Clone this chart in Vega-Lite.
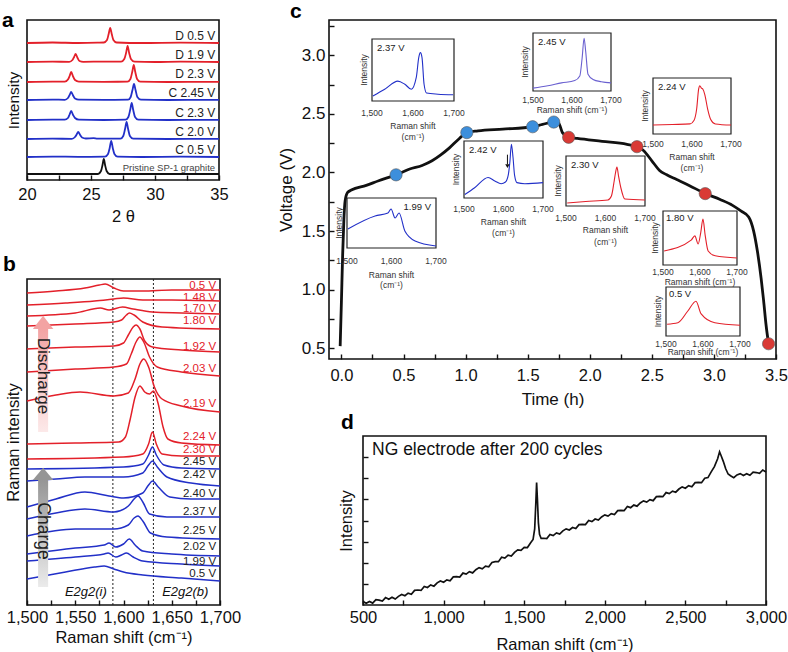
{
"$schema": "https://vega.github.io/schema/vega-lite/v6.json",
"padding": {"left": 1, "top": 0, "right": 0, "bottom": 0},
"background": "white",
"config": {
  "font": "Liberation Sans",
  "view": {"stroke": "#111", "strokeWidth": 1.6},
  "axis": {"domain": false, "grid": false, "tickColor": "#111", "tickSize": -5, "tickWidth": 1.4, "labelPadding": 9, "labelFontSize": 16.5, "labelColor": "#111", "labelFont": "Liberation Sans", "titleFont": "Liberation Sans", "titleFontSize": 16.5, "titleFontWeight": "normal", "titleColor": "#111", "labelOverlap": false, "labelFlush": false, "titlePadding": 6},
  "title": {"fontSize": 21, "fontWeight": "bold", "anchor": "start", "frame": "group", "color": "#000", "font": "Liberation Sans"},
  "text": {"font": "Liberation Sans"}
},
"datasets": {
  "aData": [
    {"s":"D0.5","g":"D","x":20,"y":137},{"s":"D0.5","g":"D","x":22,"y":137.5},{"s":"D0.5","g":"D","x":24,"y":137},{"s":"D0.5","g":"D","x":25.5,"y":137.3},{"s":"D0.5","g":"D","x":26.0,"y":137.5},{"s":"D0.5","g":"D","x":26.25,"y":140},{"s":"D0.5","g":"D","x":26.38,"y":146},{"s":"D0.5","g":"D","x":26.5,"y":152},{"s":"D0.5","g":"D","x":26.62,"y":146},{"s":"D0.5","g":"D","x":26.75,"y":140},{"s":"D0.5","g":"D","x":27.0,"y":137.5},{"s":"D0.5","g":"D","x":29,"y":137},{"s":"D0.5","g":"D","x":32,"y":137.4},{"s":"D0.5","g":"D","x":35,"y":137},
    {"s":"D1.9","g":"D","x":20,"y":118},{"s":"D1.9","g":"D","x":22,"y":118.3},{"s":"D1.9","g":"D","x":23.3,"y":118.2},{"s":"D1.9","g":"D","x":23.55,"y":120},{"s":"D1.9","g":"D","x":23.68,"y":123},{"s":"D1.9","g":"D","x":23.8,"y":126},{"s":"D1.9","g":"D","x":23.95,"y":122},{"s":"D1.9","g":"D","x":24.1,"y":119},{"s":"D1.9","g":"D","x":24.4,"y":118.2},{"s":"D1.9","g":"D","x":26,"y":118.4},{"s":"D1.9","g":"D","x":27.35,"y":118.3},{"s":"D1.9","g":"D","x":27.6,"y":121},{"s":"D1.9","g":"D","x":27.74,"y":127},{"s":"D1.9","g":"D","x":27.86,"y":134},{"s":"D1.9","g":"D","x":27.98,"y":127},{"s":"D1.9","g":"D","x":28.12,"y":121},{"s":"D1.9","g":"D","x":28.4,"y":118.3},{"s":"D1.9","g":"D","x":30,"y":118},{"s":"D1.9","g":"D","x":32,"y":118.4},{"s":"D1.9","g":"D","x":35,"y":118},
    {"s":"D2.3","g":"D","x":20,"y":98},{"s":"D2.3","g":"D","x":22,"y":98.3},{"s":"D2.3","g":"D","x":22.95,"y":98.3},{"s":"D2.3","g":"D","x":23.2,"y":100.5},{"s":"D2.3","g":"D","x":23.33,"y":104},{"s":"D2.3","g":"D","x":23.45,"y":108},{"s":"D2.3","g":"D","x":23.6,"y":103.5},{"s":"D2.3","g":"D","x":23.75,"y":100},{"s":"D2.3","g":"D","x":24.05,"y":98.4},{"s":"D2.3","g":"D","x":26,"y":98.2},{"s":"D2.3","g":"D","x":27.85,"y":98.3},{"s":"D2.3","g":"D","x":28.08,"y":101},{"s":"D2.3","g":"D","x":28.22,"y":108},{"s":"D2.3","g":"D","x":28.34,"y":115},{"s":"D2.3","g":"D","x":28.46,"y":108},{"s":"D2.3","g":"D","x":28.6,"y":101},{"s":"D2.3","g":"D","x":28.85,"y":98.3},{"s":"D2.3","g":"D","x":31,"y":98},{"s":"D2.3","g":"D","x":35,"y":98.2},
    {"s":"C2.45","g":"C","x":20,"y":80},{"s":"C2.45","g":"C","x":22,"y":80.4},{"s":"C2.45","g":"C","x":22.95,"y":80.2},{"s":"C2.45","g":"C","x":23.2,"y":82},{"s":"C2.45","g":"C","x":23.33,"y":85},{"s":"C2.45","g":"C","x":23.45,"y":88},{"s":"C2.45","g":"C","x":23.6,"y":84.5},{"s":"C2.45","g":"C","x":23.75,"y":81.5},{"s":"C2.45","g":"C","x":24.05,"y":80.3},{"s":"C2.45","g":"C","x":26,"y":80.2},{"s":"C2.45","g":"C","x":27.9,"y":80.3},{"s":"C2.45","g":"C","x":28.1,"y":83},{"s":"C2.45","g":"C","x":28.24,"y":90},{"s":"C2.45","g":"C","x":28.36,"y":96},{"s":"C2.45","g":"C","x":28.48,"y":90},{"s":"C2.45","g":"C","x":28.62,"y":83},{"s":"C2.45","g":"C","x":28.9,"y":80.3},{"s":"C2.45","g":"C","x":31,"y":80},{"s":"C2.45","g":"C","x":35,"y":80.2},
    {"s":"C2.3","g":"C","x":20,"y":60},{"s":"C2.3","g":"C","x":22,"y":60.3},{"s":"C2.3","g":"C","x":22.95,"y":60.3},{"s":"C2.3","g":"C","x":23.2,"y":62},{"s":"C2.3","g":"C","x":23.33,"y":65.5},{"s":"C2.3","g":"C","x":23.45,"y":69},{"s":"C2.3","g":"C","x":23.6,"y":65},{"s":"C2.3","g":"C","x":23.75,"y":62},{"s":"C2.3","g":"C","x":24.05,"y":60.3},{"s":"C2.3","g":"C","x":26,"y":60},{"s":"C2.3","g":"C","x":27.7,"y":60.3},{"s":"C2.3","g":"C","x":27.92,"y":63},{"s":"C2.3","g":"C","x":28.06,"y":70},{"s":"C2.3","g":"C","x":28.18,"y":77},{"s":"C2.3","g":"C","x":28.3,"y":70},{"s":"C2.3","g":"C","x":28.44,"y":63},{"s":"C2.3","g":"C","x":28.7,"y":60.3},{"s":"C2.3","g":"C","x":31,"y":60},{"s":"C2.3","g":"C","x":35,"y":60.2},
    {"s":"C2.0","g":"C","x":20,"y":41},{"s":"C2.0","g":"C","x":22,"y":41.3},{"s":"C2.0","g":"C","x":23.5,"y":41.2},{"s":"C2.0","g":"C","x":23.75,"y":43},{"s":"C2.0","g":"C","x":23.88,"y":45.5},{"s":"C2.0","g":"C","x":24.0,"y":48},{"s":"C2.0","g":"C","x":24.15,"y":45},{"s":"C2.0","g":"C","x":24.3,"y":42.5},{"s":"C2.0","g":"C","x":24.6,"y":41.5},{"s":"C2.0","g":"C","x":25.2,"y":41.8},{"s":"C2.0","g":"C","x":25.5,"y":41.3},{"s":"C2.0","g":"C","x":27.3,"y":41.3},{"s":"C2.0","g":"C","x":27.52,"y":44},{"s":"C2.0","g":"C","x":27.66,"y":51},{"s":"C2.0","g":"C","x":27.78,"y":58},{"s":"C2.0","g":"C","x":27.9,"y":51},{"s":"C2.0","g":"C","x":28.04,"y":44},{"s":"C2.0","g":"C","x":28.3,"y":41.3},{"s":"C2.0","g":"C","x":31,"y":41},{"s":"C2.0","g":"C","x":35,"y":41.2},
    {"s":"C0.5","g":"C","x":20,"y":23},{"s":"C0.5","g":"C","x":22,"y":23.4},{"s":"C0.5","g":"C","x":24,"y":23.2},{"s":"C0.5","g":"C","x":26.08,"y":23.3},{"s":"C0.5","g":"C","x":26.33,"y":26},{"s":"C0.5","g":"C","x":26.46,"y":32},{"s":"C0.5","g":"C","x":26.58,"y":39},{"s":"C0.5","g":"C","x":26.7,"y":32},{"s":"C0.5","g":"C","x":26.83,"y":26},{"s":"C0.5","g":"C","x":27.08,"y":23.3},{"s":"C0.5","g":"C","x":29,"y":23},{"s":"C0.5","g":"C","x":32,"y":23.3},{"s":"C0.5","g":"C","x":35,"y":23},
    {"s":"P","g":"P","x":20,"y":6},{"s":"P","g":"P","x":23,"y":6},{"s":"P","g":"P","x":25.55,"y":6},{"s":"P","g":"P","x":25.78,"y":9},{"s":"P","g":"P","x":25.9,"y":15},{"s":"P","g":"P","x":26.0,"y":21},{"s":"P","g":"P","x":26.1,"y":15},{"s":"P","g":"P","x":26.22,"y":9},{"s":"P","g":"P","x":26.45,"y":6},{"s":"P","g":"P","x":29,"y":6},{"s":"P","g":"P","x":35,"y":6}
  ],
  "aLab": [
    {"t":"D 0.5 V","x":34.7,"y":140},{"t":"D 1.9 V","x":34.7,"y":121},{"t":"D 2.3 V","x":34.7,"y":102},{"t":"C 2.45 V","x":34.7,"y":83},{"t":"C 2.3 V","x":34.7,"y":63},{"t":"C 2.0 V","x":34.7,"y":44},{"t":"C 0.5 V","x":34.7,"y":26}
  ],
  "bData": [
    {"s":"d0.5","g":"d","x":1500,"y":312},{"s":"d0.5","g":"d","x":1530,"y":314},{"s":"d0.5","g":"d","x":1560,"y":317},{"s":"d0.5","g":"d","x":1575,"y":320},{"s":"d0.5","g":"d","x":1581,"y":321},{"s":"d0.5","g":"d","x":1590,"y":317},{"s":"d0.5","g":"d","x":1600,"y":314},{"s":"d0.5","g":"d","x":1620,"y":314},{"s":"d0.5","g":"d","x":1650,"y":315},{"s":"d0.5","g":"d","x":1700,"y":315},
    {"s":"d1.48","g":"d","x":1500,"y":300},{"s":"d1.48","g":"d","x":1540,"y":302},{"s":"d1.48","g":"d","x":1570,"y":304},{"s":"d1.48","g":"d","x":1590,"y":306},{"s":"d1.48","g":"d","x":1600,"y":307},{"s":"d1.48","g":"d","x":1620,"y":305},{"s":"d1.48","g":"d","x":1650,"y":305},{"s":"d1.48","g":"d","x":1700,"y":304},
    {"s":"d1.70","g":"d","x":1500,"y":289},{"s":"d1.70","g":"d","x":1550,"y":292},{"s":"d1.70","g":"d","x":1576,"y":297},{"s":"d1.70","g":"d","x":1585,"y":295},{"s":"d1.70","g":"d","x":1599,"y":298},{"s":"d1.70","g":"d","x":1610,"y":296},{"s":"d1.70","g":"d","x":1630,"y":293},{"s":"d1.70","g":"d","x":1660,"y":292},{"s":"d1.70","g":"d","x":1700,"y":291},
    {"s":"d1.80","g":"d","x":1500,"y":279},{"s":"d1.80","g":"d","x":1550,"y":281},{"s":"d1.80","g":"d","x":1590,"y":283},{"s":"d1.80","g":"d","x":1598,"y":285},{"s":"d1.80","g":"d","x":1603,"y":290},{"s":"d1.80","g":"d","x":1606,"y":292},{"s":"d1.80","g":"d","x":1611,"y":290},{"s":"d1.80","g":"d","x":1620,"y":283},{"s":"d1.80","g":"d","x":1640,"y":278},{"s":"d1.80","g":"d","x":1700,"y":276},
    {"s":"d1.92","g":"d","x":1500,"y":256},{"s":"d1.92","g":"d","x":1550,"y":258},{"s":"d1.92","g":"d","x":1590,"y":259},{"s":"d1.92","g":"d","x":1600,"y":262},{"s":"d1.92","g":"d","x":1605,"y":270},{"s":"d1.92","g":"d","x":1610,"y":278},{"s":"d1.92","g":"d","x":1613,"y":280},{"s":"d1.92","g":"d","x":1617,"y":276},{"s":"d1.92","g":"d","x":1622,"y":264},{"s":"d1.92","g":"d","x":1630,"y":258},{"s":"d1.92","g":"d","x":1660,"y":255},{"s":"d1.92","g":"d","x":1700,"y":253},
    {"s":"d2.03","g":"d","x":1500,"y":233},{"s":"d2.03","g":"d","x":1550,"y":236},{"s":"d2.03","g":"d","x":1590,"y":238},{"s":"d2.03","g":"d","x":1603,"y":241},{"s":"d2.03","g":"d","x":1608,"y":251},{"s":"d2.03","g":"d","x":1613,"y":263},{"s":"d2.03","g":"d","x":1617,"y":268},{"s":"d2.03","g":"d","x":1621,"y":263},{"s":"d2.03","g":"d","x":1627,"y":248},{"s":"d2.03","g":"d","x":1635,"y":238},{"s":"d2.03","g":"d","x":1660,"y":233},{"s":"d2.03","g":"d","x":1700,"y":229},
    {"s":"d2.19","g":"d","x":1500,"y":204},{"s":"d2.19","g":"d","x":1530,"y":210},{"s":"d2.19","g":"d","x":1555,"y":213},{"s":"d2.19","g":"d","x":1590,"y":209},{"s":"d2.19","g":"d","x":1605,"y":212},{"s":"d2.19","g":"d","x":1612,"y":226},{"s":"d2.19","g":"d","x":1617,"y":241},{"s":"d2.19","g":"d","x":1621,"y":246},{"s":"d2.19","g":"d","x":1626,"y":238},{"s":"d2.19","g":"d","x":1632,"y":218},{"s":"d2.19","g":"d","x":1640,"y":206},{"s":"d2.19","g":"d","x":1660,"y":199},{"s":"d2.19","g":"d","x":1700,"y":193},
    {"s":"d2.24","g":"d","x":1500,"y":161},{"s":"d2.24","g":"d","x":1550,"y":162},{"s":"d2.24","g":"d","x":1595,"y":163},{"s":"d2.24","g":"d","x":1602,"y":168},{"s":"d2.24","g":"d","x":1607,"y":186},{"s":"d2.24","g":"d","x":1612,"y":208},{"s":"d2.24","g":"d","x":1617,"y":219},{"s":"d2.24","g":"d","x":1622,"y":213},{"s":"d2.24","g":"d","x":1627,"y":211},{"s":"d2.24","g":"d","x":1631,"y":214},{"s":"d2.24","g":"d","x":1636,"y":201},{"s":"d2.24","g":"d","x":1641,"y":178},{"s":"d2.24","g":"d","x":1646,"y":166},{"s":"d2.24","g":"d","x":1660,"y":162},{"s":"d2.24","g":"d","x":1700,"y":160},
    {"s":"d2.30","g":"d","x":1500,"y":146},{"s":"d2.30","g":"d","x":1600,"y":148},{"s":"d2.30","g":"d","x":1620,"y":151},{"s":"d2.30","g":"d","x":1626,"y":161},{"s":"d2.30","g":"d","x":1630,"y":173},{"s":"d2.30","g":"d","x":1634,"y":161},{"s":"d2.30","g":"d","x":1640,"y":151},{"s":"d2.30","g":"d","x":1660,"y":149},{"s":"d2.30","g":"d","x":1700,"y":149},
    {"s":"c2.45","g":"c","x":1500,"y":136},{"s":"c2.45","g":"c","x":1600,"y":138},{"s":"c2.45","g":"c","x":1620,"y":141},{"s":"c2.45","g":"c","x":1626,"y":150},{"s":"c2.45","g":"c","x":1630,"y":158},{"s":"c2.45","g":"c","x":1634,"y":150},{"s":"c2.45","g":"c","x":1642,"y":140},{"s":"c2.45","g":"c","x":1660,"y":137},{"s":"c2.45","g":"c","x":1700,"y":136},
    {"s":"c2.42","g":"c","x":1500,"y":124},{"s":"c2.42","g":"c","x":1530,"y":126},{"s":"c2.42","g":"c","x":1560,"y":128},{"s":"c2.42","g":"c","x":1600,"y":128},{"s":"c2.42","g":"c","x":1620,"y":132},{"s":"c2.42","g":"c","x":1626,"y":140},{"s":"c2.42","g":"c","x":1630,"y":144},{"s":"c2.42","g":"c","x":1635,"y":138},{"s":"c2.42","g":"c","x":1645,"y":128},{"s":"c2.42","g":"c","x":1670,"y":122},{"s":"c2.42","g":"c","x":1700,"y":119},
    {"s":"c2.40","g":"c","x":1500,"y":98},{"s":"c2.40","g":"c","x":1530,"y":106},{"s":"c2.40","g":"c","x":1560,"y":113},{"s":"c2.40","g":"c","x":1585,"y":109},{"s":"c2.40","g":"c","x":1600,"y":107},{"s":"c2.40","g":"c","x":1620,"y":112},{"s":"c2.40","g":"c","x":1626,"y":120},{"s":"c2.40","g":"c","x":1630,"y":124},{"s":"c2.40","g":"c","x":1636,"y":118},{"s":"c2.40","g":"c","x":1648,"y":108},{"s":"c2.40","g":"c","x":1670,"y":106},{"s":"c2.40","g":"c","x":1700,"y":106},
    {"s":"c2.37","g":"c","x":1500,"y":86},{"s":"c2.37","g":"c","x":1530,"y":92},{"s":"c2.37","g":"c","x":1560,"y":96},{"s":"c2.37","g":"c","x":1590,"y":93},{"s":"c2.37","g":"c","x":1605,"y":99},{"s":"c2.37","g":"c","x":1611,"y":106},{"s":"c2.37","g":"c","x":1615,"y":109},{"s":"c2.37","g":"c","x":1620,"y":103},{"s":"c2.37","g":"c","x":1627,"y":91},{"s":"c2.37","g":"c","x":1645,"y":88},{"s":"c2.37","g":"c","x":1700,"y":88},
    {"s":"c2.25","g":"c","x":1500,"y":69},{"s":"c2.25","g":"c","x":1550,"y":76},{"s":"c2.25","g":"c","x":1590,"y":76},{"s":"c2.25","g":"c","x":1605,"y":80},{"s":"c2.25","g":"c","x":1611,"y":87},{"s":"c2.25","g":"c","x":1615,"y":89},{"s":"c2.25","g":"c","x":1620,"y":84},{"s":"c2.25","g":"c","x":1628,"y":72},{"s":"c2.25","g":"c","x":1645,"y":68},{"s":"c2.25","g":"c","x":1700,"y":66},
    {"s":"c2.02","g":"c","x":1500,"y":51},{"s":"c2.02","g":"c","x":1550,"y":57},{"s":"c2.02","g":"c","x":1580,"y":60},{"s":"c2.02","g":"c","x":1585,"y":62},{"s":"c2.02","g":"c","x":1592,"y":58},{"s":"c2.02","g":"c","x":1600,"y":61},{"s":"c2.02","g":"c","x":1606,"y":66},{"s":"c2.02","g":"c","x":1612,"y":60},{"s":"c2.02","g":"c","x":1620,"y":54},{"s":"c2.02","g":"c","x":1650,"y":51},{"s":"c2.02","g":"c","x":1700,"y":49},
    {"s":"c1.99","g":"c","x":1500,"y":44},{"s":"c1.99","g":"c","x":1550,"y":48},{"s":"c1.99","g":"c","x":1580,"y":51},{"s":"c1.99","g":"c","x":1584,"y":52},{"s":"c1.99","g":"c","x":1592,"y":48},{"s":"c1.99","g":"c","x":1598,"y":50},{"s":"c1.99","g":"c","x":1603,"y":52},{"s":"c1.99","g":"c","x":1610,"y":48},{"s":"c1.99","g":"c","x":1620,"y":44},{"s":"c1.99","g":"c","x":1660,"y":41},{"s":"c1.99","g":"c","x":1700,"y":39},
    {"s":"c0.5","g":"c","x":1500,"y":26},{"s":"c0.5","g":"c","x":1540,"y":33},{"s":"c0.5","g":"c","x":1570,"y":38},{"s":"c0.5","g":"c","x":1580,"y":39},{"s":"c0.5","g":"c","x":1590,"y":36},{"s":"c0.5","g":"c","x":1600,"y":33},{"s":"c0.5","g":"c","x":1620,"y":30},{"s":"c0.5","g":"c","x":1660,"y":27},{"s":"c0.5","g":"c","x":1700,"y":24}
  ],
  "bLab": [
    {"t":"0.5 V","g":"d","x":1696,"y":319},{"t":"1.48 V","g":"d","x":1696,"y":307},{"t":"1.70 V","g":"d","x":1696,"y":296},{"t":"1.80 V","g":"d","x":1696,"y":284},{"t":"1.92 V","g":"d","x":1696,"y":258},{"t":"2.03 V","g":"d","x":1696,"y":236},{"t":"2.19 V","g":"d","x":1696,"y":201},{"t":"2.24 V","g":"d","x":1696,"y":168},{"t":"2.30 V","g":"d","x":1696,"y":155},
    {"t":"2.45 V","g":"c","x":1696,"y":143},{"t":"2.42 V","g":"c","x":1696,"y":130},{"t":"2.40 V","g":"c","x":1696,"y":111},{"t":"2.37 V","g":"c","x":1696,"y":93},{"t":"2.25 V","g":"c","x":1696,"y":74},{"t":"2.02 V","g":"c","x":1696,"y":58},{"t":"1.99 V","g":"c","x":1696,"y":43},{"t":"0.5 V","g":"c","x":1696,"y":31}
  ],
  "cCurve": [
    {"x":-0.01,"y":0.52},{"x":0.0,"y":0.9},{"x":0.01,"y":1.3},{"x":0.02,"y":1.6},{"x":0.03,"y":1.76},{"x":0.05,"y":1.83},{"x":0.08,"y":1.85},{"x":0.2,"y":1.89},{"x":0.3,"y":1.93},{"x":0.44,"y":1.98},{"x":0.55,"y":2.03},{"x":0.65,"y":2.06},{"x":0.73,"y":2.10},{"x":0.8,"y":2.15},{"x":0.87,"y":2.21},{"x":0.95,"y":2.29},{"x":1.01,"y":2.34},{"x":1.1,"y":2.355},{"x":1.3,"y":2.37},{"x":1.54,"y":2.39},{"x":1.62,"y":2.41},{"x":1.71,"y":2.43},{"x":1.75,"y":2.42},{"x":1.78,"y":2.34},{"x":1.83,"y":2.30},{"x":1.9,"y":2.29},{"x":2.1,"y":2.265},{"x":2.3,"y":2.24},{"x":2.38,"y":2.22},{"x":2.43,"y":2.19},{"x":2.5,"y":2.10},{"x":2.56,"y":2.02},{"x":2.62,"y":1.98},{"x":2.7,"y":1.94},{"x":2.8,"y":1.89},{"x":2.93,"y":1.82},{"x":3.05,"y":1.77},{"x":3.15,"y":1.72},{"x":3.22,"y":1.67},{"x":3.28,"y":1.62},{"x":3.32,"y":1.50},{"x":3.35,"y":1.33},{"x":3.38,"y":1.1},{"x":3.40,"y":0.91},{"x":3.42,"y":0.7},{"x":3.44,"y":0.54}
  ],
  "cDots": [
    {"x":0.44,"y":1.98,"g":"chg"},{"x":1.01,"y":2.34,"g":"chg"},{"x":1.54,"y":2.39,"g":"chg"},{"x":1.71,"y":2.43,"g":"chg"},{"x":1.83,"y":2.30,"g":"dis"},{"x":2.38,"y":2.22,"g":"dis"},{"x":2.93,"y":1.82,"g":"dis"},{"x":3.44,"y":0.54,"g":"dis"}
  ],
  "itk": [{"x":1500,"y":0},{"x":1600,"y":0},{"x":1700,"y":0}],
  "iFrame": [{"x":1500,"x2":1700,"y":0,"y2":100}],
  "iBot": [{"x":1600,"y":0}],
  "iMid": [{"x":1500,"y":50}],
  "iTL": [{"x":1500,"y":100}],
  "iTR": [{"x":1700,"y":100}],
  "ins": [
    {"k":"2.37","x":1502,"y":8},{"k":"2.37","x":1531,"y":19},{"k":"2.37","x":1563,"y":32},{"k":"2.37","x":1580,"y":27},{"k":"2.37","x":1596,"y":19},{"k":"2.37","x":1608,"y":38},{"k":"2.37","x":1614,"y":70},{"k":"2.37","x":1618,"y":78},{"k":"2.37","x":1622,"y":70},{"k":"2.37","x":1627,"y":27},{"k":"2.37","x":1633,"y":13},{"k":"2.37","x":1661,"y":11},{"k":"2.37","x":1698,"y":10},
    {"k":"2.45","x":1500,"y":5},{"k":"2.45","x":1538,"y":9},{"k":"2.45","x":1573,"y":14},{"k":"2.45","x":1607,"y":18},{"k":"2.45","x":1620,"y":26},{"k":"2.45","x":1626,"y":57},{"k":"2.45","x":1631,"y":91},{"k":"2.45","x":1635,"y":69},{"k":"2.45","x":1641,"y":29},{"k":"2.45","x":1654,"y":20},{"k":"2.45","x":1675,"y":16},{"k":"2.45","x":1700,"y":14},
    {"k":"2.24","x":1500,"y":16},{"k":"2.24","x":1550,"y":17},{"k":"2.24","x":1595,"y":18},{"k":"2.24","x":1605,"y":24},{"k":"2.24","x":1612,"y":45},{"k":"2.24","x":1617,"y":80},{"k":"2.24","x":1620,"y":86},{"k":"2.24","x":1624,"y":82},{"k":"2.24","x":1628,"y":80},{"k":"2.24","x":1633,"y":70},{"k":"2.24","x":1640,"y":45},{"k":"2.24","x":1648,"y":26},{"k":"2.24","x":1660,"y":18},{"k":"2.24","x":1700,"y":16},
    {"k":"2.42","x":1502,"y":6},{"k":"2.42","x":1527,"y":18},{"k":"2.42","x":1561,"y":36},{"k":"2.42","x":1578,"y":30},{"k":"2.42","x":1594,"y":25},{"k":"2.42","x":1605,"y":28},{"k":"2.42","x":1612,"y":40},{"k":"2.42","x":1616,"y":62},{"k":"2.42","x":1620,"y":94},{"k":"2.42","x":1624,"y":72},{"k":"2.42","x":1628,"y":40},{"k":"2.42","x":1634,"y":27},{"k":"2.42","x":1654,"y":25},{"k":"2.42","x":1700,"y":27},
    {"k":"1.99","x":1502,"y":38},{"k":"1.99","x":1563,"y":64},{"k":"1.99","x":1592,"y":70},{"k":"1.99","x":1599,"y":78},{"k":"1.99","x":1608,"y":60},{"k":"1.99","x":1617,"y":70},{"k":"1.99","x":1630,"y":34},{"k":"1.99","x":1653,"y":14},{"k":"1.99","x":1700,"y":4},
    {"k":"2.30","x":1503,"y":6},{"k":"2.30","x":1550,"y":9},{"k":"2.30","x":1606,"y":12},{"k":"2.30","x":1615,"y":20},{"k":"2.30","x":1622,"y":50},{"k":"2.30","x":1625,"y":65},{"k":"2.30","x":1629,"y":78},{"k":"2.30","x":1633,"y":60},{"k":"2.30","x":1639,"y":36},{"k":"2.30","x":1649,"y":14},{"k":"2.30","x":1700,"y":12},
    {"k":"1.80","x":1503,"y":26},{"k":"1.80","x":1576,"y":46},{"k":"1.80","x":1586,"y":54},{"k":"1.80","x":1595,"y":39},{"k":"1.80","x":1602,"y":60},{"k":"1.80","x":1608,"y":85},{"k":"1.80","x":1614,"y":55},{"k":"1.80","x":1622,"y":26},{"k":"1.80","x":1641,"y":17},{"k":"1.80","x":1700,"y":13},
    {"k":"0.5","x":1503,"y":24},{"k":"0.5","x":1532,"y":27},{"k":"0.5","x":1559,"y":51},{"k":"0.5","x":1581,"y":71},{"k":"0.5","x":1595,"y":45},{"k":"0.5","x":1632,"y":27},{"k":"0.5","x":1700,"y":22}
  ],
  "dData": [
    {"x":500,"y":0.17},{"x":520,"y":0.08},{"x":540,"y":0.17},{"x":560,"y":0.09},{"x":580,"y":0.25},{"x":600,"y":0.23},{"x":620,"y":0.19},{"x":640,"y":0.35},{"x":660,"y":0.27},{"x":680,"y":0.37},{"x":700,"y":0.28},{"x":720,"y":0.41},{"x":740,"y":0.50},{"x":760,"y":0.44},{"x":780,"y":0.56},{"x":800,"y":0.51},{"x":820,"y":0.69},{"x":840,"y":0.71},{"x":860,"y":0.69},{"x":880,"y":0.88},{"x":900,"y":0.83},{"x":920,"y":0.95},{"x":940,"y":0.89},{"x":960,"y":1.05},{"x":980,"y":1.14},{"x":1000,"y":1.08},{"x":1020,"y":1.19},{"x":1040,"y":1.15},{"x":1060,"y":1.33},{"x":1080,"y":1.34},{"x":1100,"y":1.32},{"x":1120,"y":1.51},{"x":1140,"y":1.46},{"x":1160,"y":1.58},{"x":1180,"y":1.52},{"x":1200,"y":1.67},{"x":1220,"y":1.77},{"x":1240,"y":1.71},{"x":1260,"y":1.84},{"x":1280,"y":1.81},{"x":1300,"y":2.01},{"x":1320,"y":2.05},{"x":1340,"y":2.05},{"x":1360,"y":2.26},{"x":1380,"y":2.22},{"x":1400,"y":2.36},{"x":1420,"y":2.32},{"x":1440,"y":2.49},{"x":1460,"y":2.61},{"x":1480,"y":2.59},{"x":1500,"y":2.73},{"x":1520,"y":2.72},{"x":1540,"y":2.95},{"x":1555,"y":3.1},{"x":1565,"y":3.6},{"x":1572,"y":4.8},{"x":1577,"y":5.8},{"x":1582,"y":5.0},{"x":1588,"y":3.9},{"x":1595,"y":3.35},{"x":1605,"y":3.15},{"x":1620,"y":3.16},{"x":1640,"y":3.145},{"x":1660,"y":3.34},{"x":1680,"y":3.285},{"x":1700,"y":3.41},{"x":1720,"y":3.355},{"x":1740,"y":3.51},{"x":1760,"y":3.605},{"x":1780,"y":3.55},{"x":1800,"y":3.666},{"x":1820,"y":3.62},{"x":1840,"y":3.806},{"x":1860,"y":3.82},{"x":1880,"y":3.806},{"x":1900,"y":4.0},{"x":1920,"y":3.946},{"x":1940,"y":4.07},{"x":1960,"y":4.017},{"x":1980,"y":4.17},{"x":2000,"y":4.267},{"x":2020,"y":4.21},{"x":2040,"y":4.327},{"x":2060,"y":4.28},{"x":2080,"y":4.467},{"x":2100,"y":4.48},{"x":2120,"y":4.467},{"x":2140,"y":4.66},{"x":2160,"y":4.607},{"x":2180,"y":4.73},{"x":2200,"y":4.678},{"x":2220,"y":4.83},{"x":2240,"y":4.928},{"x":2260,"y":4.87},{"x":2280,"y":4.988},{"x":2300,"y":4.94},{"x":2320,"y":5.128},{"x":2340,"y":5.14},{"x":2360,"y":5.128},{"x":2380,"y":5.32},{"x":2400,"y":5.27},{"x":2420,"y":5.39},{"x":2440,"y":5.34},{"x":2460,"y":5.49},{"x":2480,"y":5.59},{"x":2500,"y":5.53},{"x":2520,"y":5.65},{"x":2540,"y":5.60},{"x":2560,"y":5.79},{"x":2580,"y":5.80},{"x":2600,"y":5.79},{"x":2620,"y":6.0},{"x":2640,"y":6.03},{"x":2660,"y":6.30},{"x":2680,"y":6.55},{"x":2700,"y":6.92},{"x":2712,"y":7.25},{"x":2720,"y":7.10},{"x":2735,"y":6.80},{"x":2750,"y":6.45},{"x":2765,"y":6.20},{"x":2780,"y":6.12},{"x":2800,"y":6.03},{"x":2820,"y":6.16},{"x":2840,"y":6.22},{"x":2860,"y":6.13},{"x":2880,"y":6.21},{"x":2900,"y":6.14},{"x":2920,"y":6.29},{"x":2940,"y":6.27},{"x":2960,"y":6.23},{"x":2980,"y":6.39},{"x":3000,"y":6.30}
  ]
},
"spacing": 34,
"resolve": {"scale": {"color": "independent"}},
"hconcat": [
 {"spacing": 26, "resolve": {"scale": {"color": "independent"}}, "vconcat": [
  {
   "width": 192, "height": 160,
   "title": {"text": "a", "dx": -25, "offset": -11},
   "encoding": {
     "x": {"field": "x", "type": "quantitative", "scale": {"domain": [20, 35], "nice": false, "zero": false}, "axis": {"values": [20, 22.5, 25, 27.5, 30, 32.5, 35], "labelExpr": "datum.value % 5 == 0 ? format(datum.value, 'd') : ''", "title": "2 θ", "labelPadding": 11, "titlePadding": 6}},
     "y": {"field": "y", "type": "quantitative", "scale": {"domain": [0, 160], "nice": false, "zero": false}, "axis": {"title": "Intensity", "ticks": false, "labels": false, "titleFontSize": 15.5}}
   },
   "layer": [
     {"data": {"name": "aData"}, "mark": {"type": "line", "strokeWidth": 1.8, "interpolate": "monotone"}, "encoding": {"detail": {"field": "s"}, "color": {"field": "g", "type": "nominal", "scale": {"domain": ["D", "C", "P"], "range": ["#e3202a", "#2230c8", "#111111"]}, "legend": null}}},
     {"data": {"name": "aLab"}, "mark": {"type": "text", "align": "right", "baseline": "alphabetic", "fontSize": 12, "color": "#222"}, "encoding": {"text": {"field": "t"}}},
     {"data": {"values": [{"t": "Pristine SP-1 graphite", "x": 34.7, "y": 9}]}, "mark": {"type": "text", "align": "right", "baseline": "alphabetic", "fontSize": 9.5, "color": "#444"}, "encoding": {"text": {"field": "t"}}}
   ]
  },
  {
   "width": 193, "height": 326,
   "title": {"text": "b", "dx": -24, "offset": 4},
   "encoding": {
     "x": {"field": "x", "type": "quantitative", "scale": {"domain": [1500, 1700], "nice": false, "zero": false}, "axis": {"values": [1500, 1525, 1550, 1575, 1600, 1625, 1650, 1675, 1700], "labelExpr": "datum.value % 50 == 0 ? format(datum.value, ',') : ''", "title": "Raman shift (cm⁻¹)", "labelPadding": 9, "titlePadding": 4}},
     "y": {"field": "y", "type": "quantitative", "scale": {"domain": [0, 326], "nice": false, "zero": false}, "axis": {"title": "Raman intensity", "ticks": false, "labels": false}}
   },
   "layer": [
     {"data": {"values": [{"x": 1589, "y": 0, "y2": 326}, {"x": 1631, "y": 0, "y2": 326}]}, "mark": {"type": "rule", "strokeDash": [2, 2], "color": "#222", "strokeWidth": 1}, "encoding": {"y2": {"field": "y2"}}},
     {"data": {"name": "bData"}, "mark": {"type": "line", "strokeWidth": 1.5, "interpolate": "monotone"}, "encoding": {"detail": {"field": "s"}, "color": {"field": "g", "type": "nominal", "scale": {"domain": ["d", "c"], "range": ["#e3202a", "#2230c8"]}, "legend": null}}},
     {"data": {"values": [{"x": 1511.5, "x2": 1521.9, "y": 173, "y2": 277}]}, "mark": {"type": "rect", "color": {"gradient": "linear", "x1": 0, "y1": 1, "x2": 0, "y2": 0, "stops": [{"offset": 0, "color": "#fce9e9"}, {"offset": 1, "color": "#f3a3a3"}]}}, "encoding": {"x2": {"field": "x2"}, "y2": {"field": "y2"}}},
     {"data": {"values": [{"x": 1516.7, "y": 276}]}, "mark": {"type": "point", "shape": "M-1,0L1,0L0,-1.3Z", "size": 420, "filled": true, "opacity": 1, "color": "#f3a3a3"}},
     {"data": {"values": [{"x": 1511.5, "x2": 1521.9, "y": 18, "y2": 126}]}, "mark": {"type": "rect", "color": {"gradient": "linear", "x1": 0, "y1": 1, "x2": 0, "y2": 0, "stops": [{"offset": 0, "color": "#ebebeb"}, {"offset": 1, "color": "#959595"}]}}, "encoding": {"x2": {"field": "x2"}, "y2": {"field": "y2"}}},
     {"data": {"values": [{"x": 1516.7, "y": 125}]}, "mark": {"type": "point", "shape": "M-1,0L1,0L0,-1.2Z", "size": 420, "filled": true, "opacity": 1, "color": "#959595"}},
     {"data": {"values": [{"x": 1516.7, "y": 229}]}, "mark": {"type": "text", "text": "Discharge", "angle": 90, "fontSize": 17, "align": "center", "baseline": "middle", "color": "#222"}},
     {"data": {"values": [{"x": 1516.7, "y": 74}]}, "mark": {"type": "text", "text": "Charge", "angle": 90, "fontSize": 17.5, "align": "center", "baseline": "middle", "color": "#222"}},
     {"data": {"name": "bLab"}, "mark": {"type": "text", "align": "right", "baseline": "middle", "fontSize": 11.5}, "encoding": {"text": {"field": "t"}, "color": {"field": "g", "type": "nominal", "scale": {"domain": ["d", "c"], "range": ["#e3202a", "#222222"]}, "legend": null}}},
     {"data": {"values": [{"x": 1561, "y": 13, "t": "E2g2(i)"}, {"x": 1664, "y": 13, "t": "E2g2(b)"}]}, "mark": {"type": "text", "fontStyle": "italic", "fontSize": 13, "baseline": "middle", "color": "#111"}, "encoding": {"text": {"field": "t"}}}
   ],
   "resolve": {"scale": {"color": "independent"}}
  }
 ]},
 {"spacing": 2, "resolve": {"scale": {"color": "independent"}}, "vconcat": [
  {
   "width": 447, "height": 339,
   "title": {"text": "c", "dx": -39, "offset": -5},
   "layer": [
     {"encoding": {
        "x": {"field": "x", "type": "quantitative", "scale": {"domain": [-0.1, 3.5], "nice": false, "zero": false}, "axis": {"values": [0, 0.25, 0.5, 0.75, 1, 1.25, 1.5, 1.75, 2, 2.25, 2.5, 2.75, 3, 3.25, 3.5], "labelExpr": "datum.value % 0.5 == 0 ? format(datum.value, '.1f') : ''", "title": "Time (h)", "labelFontSize": 16.5, "titleFontSize": 17, "labelPadding": 13, "titlePadding": 8}},
        "y": {"field": "y", "type": "quantitative", "scale": {"domain": [0.41, 3.3], "nice": false, "zero": false}, "axis": {"values": [0.5, 0.75, 1, 1.25, 1.5, 1.75, 2, 2.25, 2.5, 2.75, 3, 3.25], "labelExpr": "datum.value % 0.5 == 0 ? format(datum.value, '.1f') : ''", "title": "Voltage (V)", "labelFontSize": 17, "titleFontSize": 17}}
      },
      "layer": [
        {"data": {"name": "cCurve"}, "mark": {"type": "line", "color": "#111", "strokeWidth": 2.8, "interpolate": "monotone"}},
        {"data": {"name": "cDots"}, "mark": {"type": "circle", "size": 150, "opacity": 1, "stroke": "#555", "strokeWidth": 0.6}, "encoding": {"color": {"field": "g", "type": "nominal", "scale": {"domain": ["chg", "dis"], "range": ["#3d8fdc", "#d93a35"]}, "legend": null}}}
      ]},
     {"encoding": {
        "x": {"field": "x", "type": "quantitative", "scale": {"domain": [1500, 1700], "range": [43, 125], "nice": false, "zero": false}, "axis": null},
        "y": {"field": "y", "type": "quantitative", "scale": {"domain": [0, 100], "range": [81, 19], "nice": false, "zero": false}, "axis": null}},
      "layer": [
        {"data": {"name": "iFrame"}, "mark": {"type": "rect", "fill": "white", "stroke": "#222", "strokeWidth": 1.2}, "encoding": {"x2": {"field": "x2"}, "y2": {"field": "y2"}}},
        {"data": {"name": "ins"}, "transform": [{"filter": "datum.k == '2.37'"}], "mark": {"type": "line", "color": "#2230c8", "strokeWidth": 1.1, "interpolate": "monotone"}},
        {"data": {"name": "itk"}, "mark": {"type": "text", "fontSize": 8.5, "baseline": "middle", "dy": 12, "color": "#333"}, "encoding": {"text": {"field": "x", "format": ","}}},
        {"data": {"name": "iBot"}, "mark": {"type": "text", "text": "Raman shift", "fontSize": 8.5, "baseline": "middle", "dy": 25, "color": "#333"}},
        {"data": {"name": "iBot"}, "mark": {"type": "text", "text": "(cm⁻¹)", "fontSize": 8.5, "baseline": "middle", "dy": 36, "color": "#333"}},
        {"data": {"name": "iMid"}, "mark": {"type": "text", "text": "Intensity", "angle": 270, "fontSize": 8.5, "baseline": "bottom", "dy": -3, "color": "#333"}},
        {"data": {"name": "iTL"}, "mark": {"type": "text", "text": "2.37 V", "fontSize": 9.5, "align": "left", "baseline": "top", "dx": 5, "dy": 4, "color": "#222"}}
      ]},
     {"encoding": {
        "x": {"field": "x", "type": "quantitative", "scale": {"domain": [1500, 1700], "range": [204, 282], "nice": false, "zero": false}, "axis": null},
        "y": {"field": "y", "type": "quantitative", "scale": {"domain": [0, 100], "range": [71, 13], "nice": false, "zero": false}, "axis": null}},
      "layer": [
        {"data": {"name": "iFrame"}, "mark": {"type": "rect", "fill": "white", "stroke": "#222", "strokeWidth": 1.2}, "encoding": {"x2": {"field": "x2"}, "y2": {"field": "y2"}}},
        {"data": {"name": "ins"}, "transform": [{"filter": "datum.k == '2.45'"}], "mark": {"type": "line", "color": "#6a60d0", "strokeWidth": 1.1, "interpolate": "monotone"}},
        {"data": {"name": "itk"}, "mark": {"type": "text", "fontSize": 8.5, "baseline": "middle", "dy": 9, "color": "#333"}, "encoding": {"text": {"field": "x", "format": ","}}},
        {"data": {"name": "iBot"}, "mark": {"type": "text", "text": "Raman shift (cm⁻¹)", "fontSize": 8.5, "baseline": "middle", "dy": 19, "color": "#333"}},
        {"data": {"name": "iMid"}, "mark": {"type": "text", "text": "Intensity", "angle": 270, "fontSize": 8.5, "baseline": "bottom", "dy": -3, "color": "#333"}},
        {"data": {"name": "iTL"}, "mark": {"type": "text", "text": "2.45 V", "fontSize": 9.5, "align": "left", "baseline": "top", "dx": 5, "dy": 4, "color": "#222"}}
      ]},
     {"encoding": {
        "x": {"field": "x", "type": "quantitative", "scale": {"domain": [1500, 1700], "range": [324, 402], "nice": false, "zero": false}, "axis": null},
        "y": {"field": "y", "type": "quantitative", "scale": {"domain": [0, 100], "range": [114, 58], "nice": false, "zero": false}, "axis": null}},
      "layer": [
        {"data": {"name": "iFrame"}, "mark": {"type": "rect", "fill": "white", "stroke": "#222", "strokeWidth": 1.2}, "encoding": {"x2": {"field": "x2"}, "y2": {"field": "y2"}}},
        {"data": {"name": "ins"}, "transform": [{"filter": "datum.k == '2.24'"}], "mark": {"type": "line", "color": "#e3202a", "strokeWidth": 1.1, "interpolate": "monotone"}},
        {"data": {"name": "itk"}, "mark": {"type": "text", "fontSize": 8.5, "baseline": "middle", "dy": 10, "color": "#333"}, "encoding": {"text": {"field": "x", "format": ","}}},
        {"data": {"name": "iBot"}, "mark": {"type": "text", "text": "Raman shift", "fontSize": 8.5, "baseline": "middle", "dy": 23, "color": "#333"}},
        {"data": {"name": "iBot"}, "mark": {"type": "text", "text": "(cm⁻¹)", "fontSize": 8.5, "baseline": "middle", "dy": 34, "color": "#333"}},
        {"data": {"name": "iMid"}, "mark": {"type": "text", "text": "Intensity", "angle": 270, "fontSize": 8.5, "baseline": "bottom", "dy": -3, "color": "#333"}},
        {"data": {"name": "iTL"}, "mark": {"type": "text", "text": "2.24 V", "fontSize": 9.5, "align": "left", "baseline": "top", "dx": 5, "dy": 4, "color": "#222"}}
      ]},
     {"encoding": {
        "x": {"field": "x", "type": "quantitative", "scale": {"domain": [1500, 1700], "range": [135, 214], "nice": false, "zero": false}, "axis": null},
        "y": {"field": "y", "type": "quantitative", "scale": {"domain": [0, 100], "range": [178, 121], "nice": false, "zero": false}, "axis": null}},
      "layer": [
        {"data": {"name": "iFrame"}, "mark": {"type": "rect", "fill": "white", "stroke": "#222", "strokeWidth": 1.2}, "encoding": {"x2": {"field": "x2"}, "y2": {"field": "y2"}}},
        {"data": {"name": "ins"}, "transform": [{"filter": "datum.k == '2.42'"}], "mark": {"type": "line", "color": "#2230c8", "strokeWidth": 1.1, "interpolate": "monotone"}},
        {"data": {"values": [{"x": 1610, "y": 76, "y2": 59}]}, "mark": {"type": "rule", "color": "#111", "strokeWidth": 1}, "encoding": {"y2": {"field": "y2"}}},
        {"data": {"values": [{"x": 1610, "y": 56}]}, "mark": {"type": "point", "shape": "triangle-down", "size": 20, "filled": true, "opacity": 1, "color": "#111"}},
        {"data": {"name": "itk"}, "mark": {"type": "text", "fontSize": 8.5, "baseline": "middle", "dy": 11, "color": "#333"}, "encoding": {"text": {"field": "x", "format": ","}}},
        {"data": {"name": "iBot"}, "mark": {"type": "text", "text": "Raman shift", "fontSize": 8.5, "baseline": "middle", "dy": 24, "color": "#333"}},
        {"data": {"name": "iBot"}, "mark": {"type": "text", "text": "(cm⁻¹)", "fontSize": 8.5, "baseline": "middle", "dy": 35, "color": "#333"}},
        {"data": {"name": "iMid"}, "mark": {"type": "text", "text": "Intensity", "angle": 270, "fontSize": 8.5, "baseline": "bottom", "dy": -3, "color": "#333"}},
        {"data": {"name": "iTL"}, "mark": {"type": "text", "text": "2.42 V", "fontSize": 9.5, "align": "left", "baseline": "top", "dx": 5, "dy": 4, "color": "#222"}}
      ]},
     {"encoding": {
        "x": {"field": "x", "type": "quantitative", "scale": {"domain": [1500, 1700], "range": [18, 107], "nice": false, "zero": false}, "axis": null},
        "y": {"field": "y", "type": "quantitative", "scale": {"domain": [0, 100], "range": [228, 178], "nice": false, "zero": false}, "axis": null}},
      "layer": [
        {"data": {"name": "iFrame"}, "mark": {"type": "rect", "fill": "white", "stroke": "#222", "strokeWidth": 1.2}, "encoding": {"x2": {"field": "x2"}, "y2": {"field": "y2"}}},
        {"data": {"name": "ins"}, "transform": [{"filter": "datum.k == '1.99'"}], "mark": {"type": "line", "color": "#2230c8", "strokeWidth": 1.1, "interpolate": "monotone"}},
        {"data": {"name": "itk"}, "mark": {"type": "text", "fontSize": 8.5, "baseline": "middle", "dy": 13, "color": "#333"}, "encoding": {"text": {"field": "x", "format": ","}}},
        {"data": {"name": "iBot"}, "mark": {"type": "text", "text": "Raman shift", "fontSize": 8.5, "baseline": "middle", "dy": 27, "color": "#333"}},
        {"data": {"name": "iBot"}, "mark": {"type": "text", "text": "(cm⁻¹)", "fontSize": 8.5, "baseline": "middle", "dy": 37, "color": "#333"}},
        {"data": {"name": "iMid"}, "mark": {"type": "text", "text": "Intensity", "angle": 270, "fontSize": 8.5, "baseline": "bottom", "dy": -3, "color": "#333"}},
        {"data": {"name": "iTR"}, "mark": {"type": "text", "text": "1.99 V", "fontSize": 9.5, "align": "right", "baseline": "top", "dx": -5, "dy": 4, "color": "#222"}}
      ]},
     {"encoding": {
        "x": {"field": "x", "type": "quantitative", "scale": {"domain": [1500, 1700], "range": [237, 316], "nice": false, "zero": false}, "axis": null},
        "y": {"field": "y", "type": "quantitative", "scale": {"domain": [0, 100], "range": [186, 136], "nice": false, "zero": false}, "axis": null}},
      "layer": [
        {"data": {"name": "iFrame"}, "mark": {"type": "rect", "fill": "white", "stroke": "#222", "strokeWidth": 1.2}, "encoding": {"x2": {"field": "x2"}, "y2": {"field": "y2"}}},
        {"data": {"name": "ins"}, "transform": [{"filter": "datum.k == '2.30'"}], "mark": {"type": "line", "color": "#e3202a", "strokeWidth": 1.1, "interpolate": "monotone"}},
        {"data": {"name": "itk"}, "mark": {"type": "text", "fontSize": 8.5, "baseline": "middle", "dy": 12, "color": "#333"}, "encoding": {"text": {"field": "x", "format": ","}}},
        {"data": {"name": "iBot"}, "mark": {"type": "text", "text": "Raman shift", "fontSize": 8.5, "baseline": "middle", "dy": 24, "color": "#333"}},
        {"data": {"name": "iBot"}, "mark": {"type": "text", "text": "(cm⁻¹)", "fontSize": 8.5, "baseline": "middle", "dy": 36, "color": "#333"}},
        {"data": {"name": "iMid"}, "mark": {"type": "text", "text": "Intensity", "angle": 270, "fontSize": 8.5, "baseline": "bottom", "dy": -3, "color": "#333"}},
        {"data": {"name": "iTL"}, "mark": {"type": "text", "text": "2.30 V", "fontSize": 9.5, "align": "left", "baseline": "top", "dx": 5, "dy": 4, "color": "#222"}}
      ]},
     {"encoding": {
        "x": {"field": "x", "type": "quantitative", "scale": {"domain": [1500, 1700], "range": [334, 408], "nice": false, "zero": false}, "axis": null},
        "y": {"field": "y", "type": "quantitative", "scale": {"domain": [0, 100], "range": [245, 191], "nice": false, "zero": false}, "axis": null}},
      "layer": [
        {"data": {"name": "iFrame"}, "mark": {"type": "rect", "fill": "white", "stroke": "#222", "strokeWidth": 1.2}, "encoding": {"x2": {"field": "x2"}, "y2": {"field": "y2"}}},
        {"data": {"name": "ins"}, "transform": [{"filter": "datum.k == '1.80'"}], "mark": {"type": "line", "color": "#e3202a", "strokeWidth": 1.1, "interpolate": "monotone"}},
        {"data": {"name": "itk"}, "mark": {"type": "text", "fontSize": 8.5, "baseline": "middle", "dy": 7, "color": "#333"}, "encoding": {"text": {"field": "x", "format": ","}}},
        {"data": {"name": "iBot"}, "mark": {"type": "text", "text": "Raman shift (cm⁻¹)", "fontSize": 8.5, "baseline": "middle", "dy": 17, "color": "#333"}},
        {"data": {"name": "iMid"}, "mark": {"type": "text", "text": "Intensity", "angle": 270, "fontSize": 8.5, "baseline": "bottom", "dy": -3, "color": "#333"}},
        {"data": {"name": "iTL"}, "mark": {"type": "text", "text": "1.80 V", "fontSize": 9.5, "align": "left", "baseline": "top", "dx": 3, "dy": 2, "color": "#222"}}
      ]},
     {"encoding": {
        "x": {"field": "x", "type": "quantitative", "scale": {"domain": [1500, 1700], "range": [337, 411], "nice": false, "zero": false}, "axis": null},
        "y": {"field": "y", "type": "quantitative", "scale": {"domain": [0, 100], "range": [316, 267], "nice": false, "zero": false}, "axis": null}},
      "layer": [
        {"data": {"name": "iFrame"}, "mark": {"type": "rect", "fill": "white", "stroke": "#222", "strokeWidth": 1.2}, "encoding": {"x2": {"field": "x2"}, "y2": {"field": "y2"}}},
        {"data": {"name": "ins"}, "transform": [{"filter": "datum.k == '0.5'"}], "mark": {"type": "line", "color": "#e3202a", "strokeWidth": 1.1, "interpolate": "monotone"}},
        {"data": {"name": "itk"}, "mark": {"type": "text", "fontSize": 8.5, "baseline": "middle", "dy": 8, "color": "#333"}, "encoding": {"text": {"field": "x", "format": ","}}},
        {"data": {"name": "iBot"}, "mark": {"type": "text", "text": "Raman shift (cm⁻¹)", "fontSize": 8.5, "baseline": "middle", "dy": 16, "color": "#333"}},
        {"data": {"name": "iMid"}, "mark": {"type": "text", "text": "Intensity", "angle": 270, "fontSize": 8.5, "baseline": "bottom", "dy": -3, "color": "#333"}},
        {"data": {"name": "iTL"}, "mark": {"type": "text", "text": "0.5 V", "fontSize": 9.5, "align": "left", "baseline": "top", "dx": 3, "dy": 2, "color": "#222"}}
      ]}
   ],
   "resolve": {"scale": {"x": "independent", "y": "independent", "color": "independent"}}
  },
  {"spacing": 0, "hconcat": [
    {"width": 8, "height": 10, "data": {"values": []}, "mark": "point", "view": {"stroke": null}},
    {
     "width": 403, "height": 169,
     "title": {"text": "d", "dx": -22, "offset": 3},
     "encoding": {
       "x": {"field": "x", "type": "quantitative", "scale": {"domain": [500, 3000], "nice": false, "zero": false}, "axis": {"values": [500, 750, 1000, 1250, 1500, 1750, 2000, 2250, 2500, 2750, 3000], "labelExpr": "datum.value % 500 == 0 ? format(datum.value, ',') : ''", "title": "Raman shift (cm⁻¹)", "titlePadding": 11}},
       "y": {"field": "y", "type": "quantitative", "scale": {"domain": [0, 8], "nice": false, "zero": false}, "axis": {"values": [1, 2, 3, 4, 5, 6, 7], "labels": false, "title": "Intensity", "titlePadding": 8}}
     },
     "layer": [
       {"data": {"name": "dData"}, "mark": {"type": "line", "color": "#111", "strokeWidth": 1.7}},
       {"data": {"values": [{"x": 556, "y": 7.35}]}, "mark": {"type": "text", "text": "NG electrode after 200 cycles", "align": "left", "baseline": "middle", "fontSize": 17.5, "color": "#111"}}
     ]
    }
  ]}
 ]}
]
}
